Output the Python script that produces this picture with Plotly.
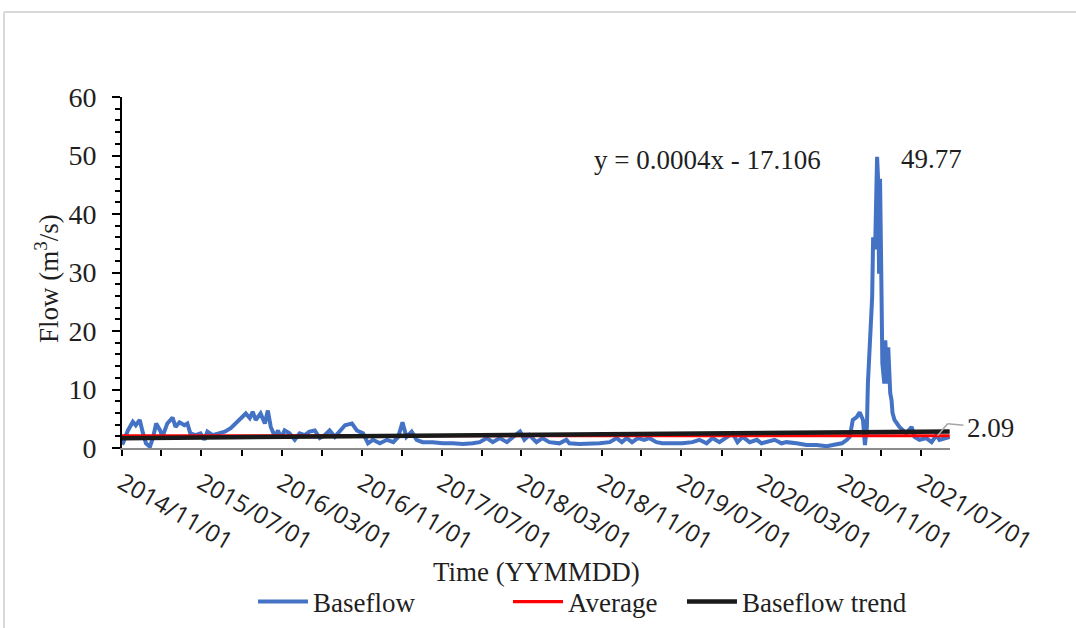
import pandas as pd
import plotly.graph_objects as go

# Daily baseflow record (sampled), m3/s
flow_dates = [
    "2014-11-01", "2014-11-04", "2014-11-19", "2014-12-04", "2014-12-13", "2014-12-25",
    "2015-01-04", "2015-01-13", "2015-01-25", "2015-02-04", "2015-02-13", "2015-02-25",
    "2015-03-04", "2015-03-19", "2015-04-04", "2015-04-13", "2015-04-25", "2015-05-10",
    "2015-05-19", "2015-05-28", "2015-06-13", "2015-06-28", "2015-07-10", "2015-07-19",
    "2015-08-04", "2015-08-19", "2015-09-10", "2015-09-28", "2015-10-13", "2015-10-28",
    "2015-11-13", "2015-11-25", "2015-12-04", "2015-12-13", "2015-12-28", "2016-01-10",
    "2016-01-19", "2016-01-28", "2016-02-10", "2016-02-19", "2016-02-28", "2016-03-10",
    "2016-03-25", "2016-04-10", "2016-04-25", "2016-05-10", "2016-05-25", "2016-06-10",
    "2016-06-25", "2016-07-10", "2016-07-25", "2016-08-10", "2016-08-25", "2016-09-10",
    "2016-10-01", "2016-10-16", "2016-11-04", "2016-11-19", "2016-12-04", "2016-12-25",
    "2017-01-16", "2017-02-04", "2017-02-19", "2017-03-04", "2017-03-16", "2017-04-01",
    "2017-04-16", "2017-05-04", "2017-06-04", "2017-07-04", "2017-08-04", "2017-09-04",
    "2017-10-04", "2017-10-25", "2017-11-16", "2017-12-04", "2017-12-25", "2018-01-16",
    "2018-02-04", "2018-02-25", "2018-03-10", "2018-03-25", "2018-04-16", "2018-05-04",
    "2018-05-25", "2018-06-25", "2018-07-16", "2018-07-25", "2018-08-25", "2018-09-25",
    "2018-10-25", "2018-11-25", "2018-12-16", "2019-01-01", "2019-01-16", "2019-02-01",
    "2019-02-19", "2019-03-10", "2019-03-25", "2019-04-16", "2019-05-04", "2019-06-04",
    "2019-07-04", "2019-08-04", "2019-08-25", "2019-09-16", "2019-10-04", "2019-10-25",
    "2019-11-16", "2019-12-04", "2019-12-19", "2020-01-04", "2020-01-25", "2020-02-16",
    "2020-03-01", "2020-03-19", "2020-04-10", "2020-05-01", "2020-05-16", "2020-06-16",
    "2020-07-16", "2020-08-16", "2020-09-16", "2020-10-04", "2020-11-01", "2020-11-16",
    "2020-11-25", "2020-12-04", "2020-12-16", "2020-12-25", "2021-01-04", "2021-01-10",
    "2021-01-16", "2021-01-19", "2021-02-01", "2021-02-04", "2021-02-10", "2021-02-16",
    "2021-02-19", "2021-02-22", "2021-02-25", "2021-03-01", "2021-03-04", "2021-03-10",
    "2021-03-13", "2021-03-19", "2021-03-22", "2021-03-28", "2021-04-01", "2021-04-04",
    "2021-04-10", "2021-04-25", "2021-05-16", "2021-06-01", "2021-06-10", "2021-06-25",
    "2021-07-16", "2021-08-01", "2021-08-16", "2021-08-25", "2021-09-10", "2021-09-25",
]
flow_values = [
    0.6, 0.85, 3.0, 4.5, 3.9, 4.8,
    2.5, 0.8, 0.2, 1.9, 4.2, 3.0,
    1.9, 4.2, 5.2, 3.6, 4.4, 3.9,
    4.2, 2.5, 2.2, 2.5, 1.4, 2.8,
    2.2, 2.5, 2.8, 3.4, 4.2, 5.1,
    5.9, 5.1, 6.2, 4.8, 5.9, 4.2,
    6.4, 3.6, 1.9, 3.0, 1.7, 3.0,
    2.5, 1.4, 2.5, 2.2, 2.8, 3.0,
    1.7, 2.2, 3.0, 1.9, 3.0, 3.9,
    4.2, 3.0, 2.5, 0.8, 1.4, 0.8,
    1.4, 1.0, 1.9, 4.4, 1.9, 2.8,
    1.4, 1.0, 1.0, 0.8, 0.8, 0.7,
    0.8, 1.0, 1.7, 1.0, 1.7, 1.0,
    1.9, 2.8, 1.4, 2.2, 1.0, 1.7,
    1.0, 0.8, 1.4, 0.8, 0.7, 0.7,
    0.8, 1.0, 1.7, 1.0, 1.7, 1.0,
    1.7, 1.4, 1.7, 1.0, 0.8, 0.8,
    0.8, 1.0, 1.4, 0.8, 1.7, 1.0,
    1.9, 2.5, 1.0, 1.9, 1.0, 1.4,
    0.8, 1.0, 1.4, 0.8, 1.0, 0.8,
    0.5, 0.5, 0.3, 0.5, 0.8, 1.4,
    1.9, 4.8, 5.3, 6.1, 4.8, 0.5,
    3.6, 11.0, 25.8, 36.0, 34.0, 49.77,
    46.0, 29.8, 46.0, 28.6, 14.5, 11.0,
    18.4, 11.0, 17.2, 9.4, 8.2, 6.0,
    4.8, 3.6, 2.5, 3.6, 1.9, 1.4,
    1.7, 1.0, 2.2, 1.4, 1.7, 1.9,
]

# Mean baseflow over the record and the fitted linear trend (x = Excel date serial)
average_flow = 2.09
trend_slope = 0.000448
trend_intercept = -17.106

# Axis ticks
x_tick_start = "2014-11-01"
y_range = [0, 60]

FONT_SERIF = "Liberation Serif"
TEXT_COLOR = "#1f1f1f"

dates = pd.to_datetime(flow_dates)
first_date, last_date = dates.min(), dates.max()
excel_epoch = pd.Timestamp("1899-12-30")
trend_x = [first_date, last_date]
trend_y = [trend_slope * (d - excel_epoch).days + trend_intercept for d in trend_x]

fig = go.Figure()

fig.add_trace(go.Scatter(
    x=dates, y=flow_values, mode="lines", name="Baseflow", showlegend=True,
    line=dict(color="#4472C4", width=4), legend="legend",
))
fig.add_trace(go.Scatter(
    x=[first_date, last_date], y=[average_flow, average_flow], mode="lines",
    name="Average", showlegend=True,
    line=dict(color="#FF0000", width=3.2), legend="legend2",
))
fig.add_trace(go.Scatter(
    x=trend_x, y=trend_y, mode="lines", name="Baseflow trend", showlegend=True,
    line=dict(color="#1a1a1a", width=4.5), legend="legend3",
))

# Peak value label
peak_idx = max(range(len(flow_values)), key=lambda i: flow_values[i])
peak_date, peak_val = dates[peak_idx], flow_values[peak_idx]

annotations = [
    dict(x=peak_date, y=peak_val, xref="x", yref="y", text=f"{peak_val:.2f}",
         showarrow=False, xanchor="left", yanchor="middle", xshift=22, yshift=-2,
         font=dict(family=FONT_SERIF, size=27, color=TEXT_COLOR)),
    # trend equation
    dict(x=0.7077, y=0.8205, xref="paper", yref="paper",
         text=f"y = {round(trend_slope, 4)}x - {abs(trend_intercept)}",
         showarrow=False, xanchor="center", yanchor="middle",
         font=dict(family=FONT_SERIF, size=27, color=TEXT_COLOR)),
    # average value label with elbow leader
    dict(x=pd.Timestamp("2021-08-19"), y=average_flow, xref="x", yref="y",
         text=f"{average_flow:.2f}", showarrow=True, arrowhead=0, arrowwidth=1.6,
         arrowcolor="#a6a6a6", xshift=10, yshift=12, ax=43, ay=4, standoff=0,
         startstandoff=2,
         font=dict(family=FONT_SERIF, size=27, color=TEXT_COLOR)),
    # axis titles
    dict(x=0.5, y=-0.3533, xref="paper", yref="paper", text="Time (YYMMDD)",
         showarrow=False, xanchor="center", yanchor="middle",
         font=dict(family=FONT_SERIF, size=27, color=TEXT_COLOR)),
    dict(x=-0.0906, y=0.4843, xref="paper", yref="paper",
         text="Flow (m<sup>3</sup>/s)", textangle=-90,
         showarrow=False, xanchor="center", yanchor="middle",
         font=dict(family=FONT_SERIF, size=27, color=TEXT_COLOR)),
]

shapes = [
    # diagonal part of the leader to the average line
    dict(type="line", xref="x", yref="y", xsizemode="pixel", ysizemode="pixel",
         xanchor=pd.Timestamp("2021-08-19"), yanchor=average_flow,
         x0=0, y0=0, x1=10, y1=12, line=dict(color="#a6a6a6", width=1.6)),
    # outer frame
    dict(type="line", xref="paper", yref="paper", x0=-0.1425, x1=1.2, y0=1.2422, y1=1.2422,
         line=dict(color="#d9d9d9", width=2)),
    dict(type="line", xref="paper", yref="paper", x0=-0.1425, x1=-0.1425, y0=-0.6, y1=1.2422,
         line=dict(color="#d9d9d9", width=2)),
]

legend_common = dict(
    orientation="h", yanchor="middle", y=-0.4387, xanchor="left",
    font=dict(family=FONT_SERIF, size=27, color=TEXT_COLOR),
    bgcolor="rgba(0,0,0,0)", borderwidth=0, visible=True, itemwidth=50,
)

fig.update_layout(
    width=1076, height=628,
    margin=dict(l=122, r=126, t=97, b=180, autoexpand=False),
    paper_bgcolor="white", plot_bgcolor="white",
    font=dict(family=FONT_SERIF, color=TEXT_COLOR),
    showlegend=True,
    annotations=annotations, shapes=shapes,
    legend=dict(x=0.1582, **legend_common),
    legend2=dict(x=0.4662, **legend_common),
    legend3=dict(x=0.6763, **legend_common),
    xaxis=dict(
        type="date", range=[pd.Timestamp(x_tick_start), pd.Timestamp("2021-09-26")],
        tick0=x_tick_start, dtick="M8", tickformat="%Y/%m/%d", tickangle=30,
        ticks="outside", ticklen=6, tickwidth=2, tickcolor="black",
        minor=dict(tick0=x_tick_start, dtick="M4", ticks="outside", ticklen=6,
                   tickwidth=2, tickcolor="black", showgrid=False),
        showline=True, linecolor="#8c8c8c", linewidth=1.5,
        showgrid=False, zeroline=False, ticklabelstandoff=4,
        tickfont=dict(family="Open Sans", size=24, color=TEXT_COLOR),
    ),
    yaxis=dict(
        range=y_range, dtick=10, tick0=0,
        ticks="outside", ticklen=8, tickwidth=2, tickcolor="black",
        minor=dict(dtick=2, ticks="outside", ticklen=5, tickwidth=2,
                   tickcolor="black", showgrid=False),
        showline=True, linecolor="black", linewidth=2,
        showgrid=False, zeroline=False, ticklabelstandoff=10,
        tickfont=dict(family=FONT_SERIF, size=28, color=TEXT_COLOR),
    ),
)

fig.write_html("out.html")
